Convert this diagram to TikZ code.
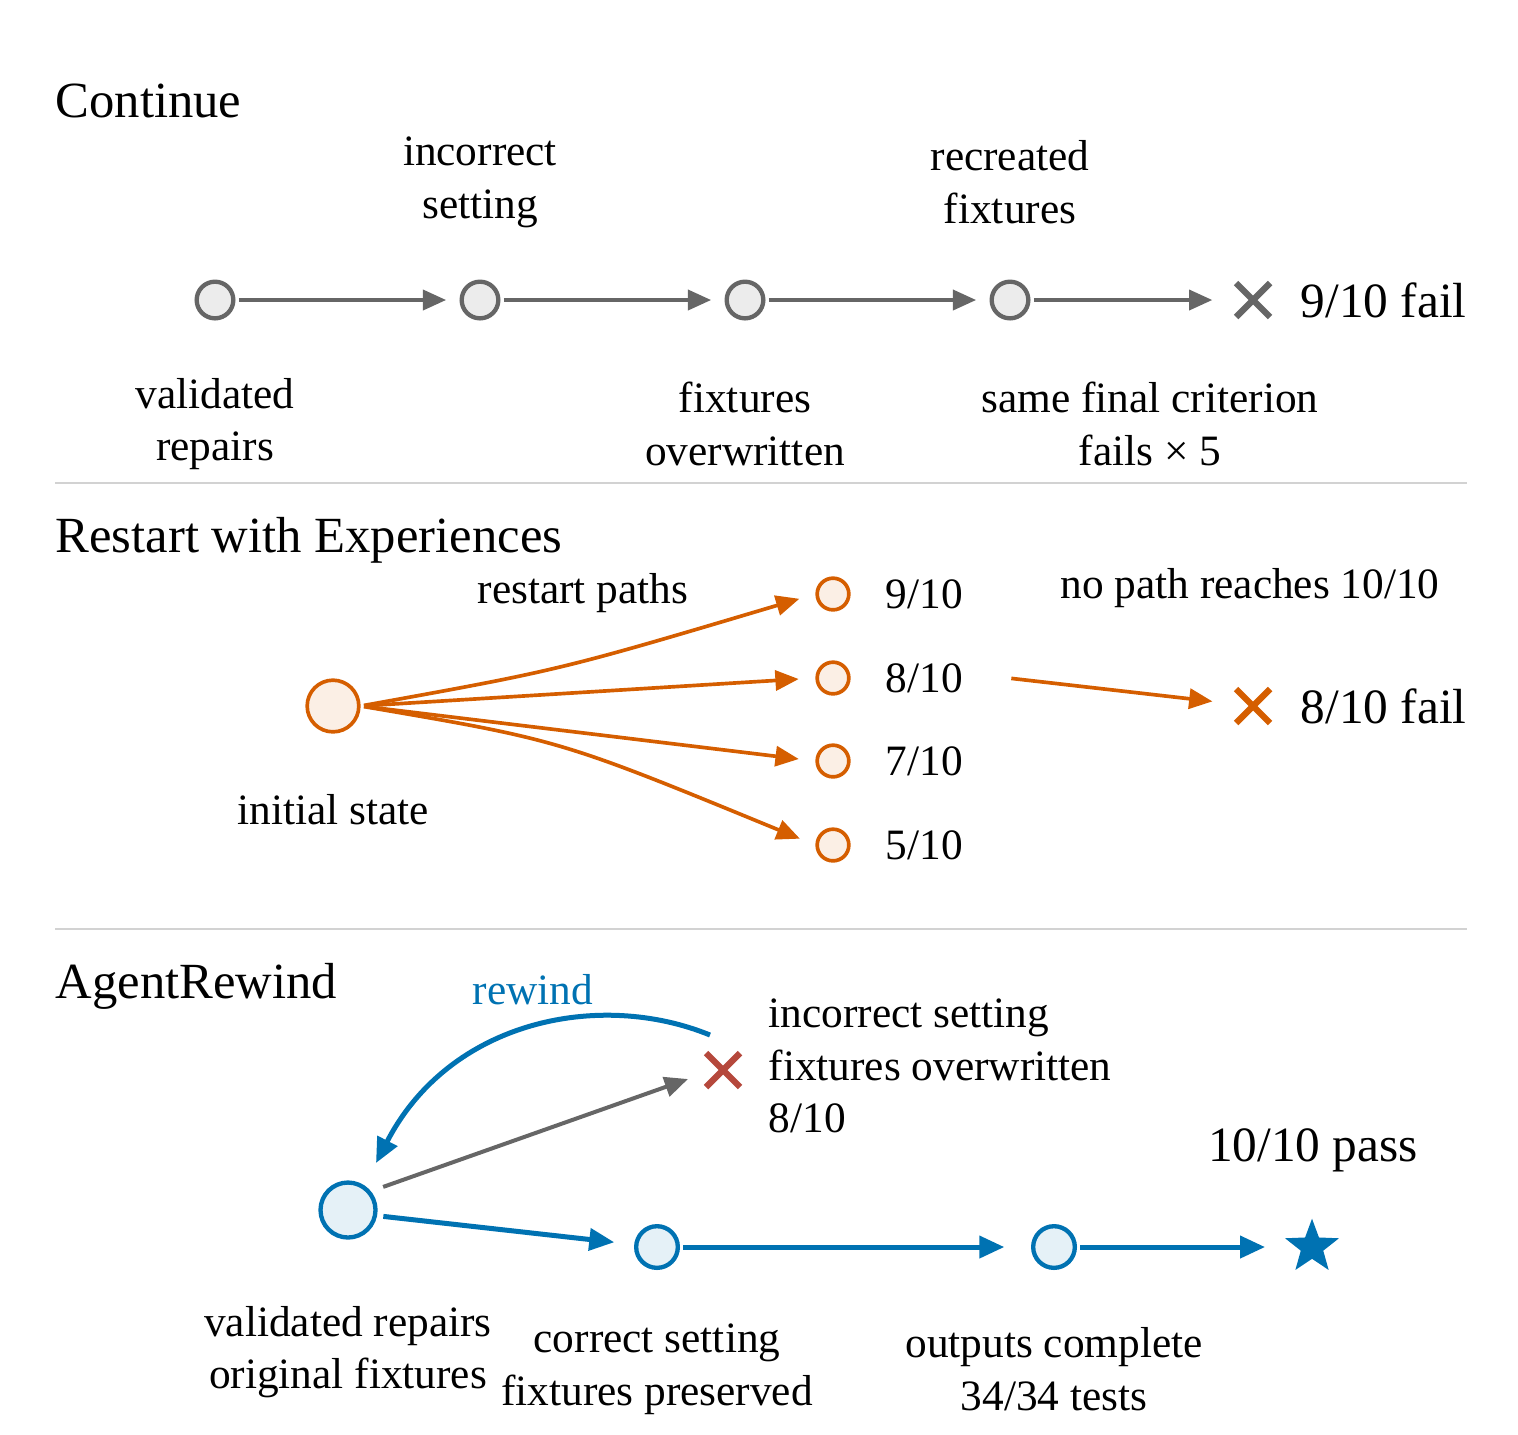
\documentclass[tikz,border=0pt]{standalone}
\usepackage{fontspec}
\setmainfont{Liberation Serif}
\usetikzlibrary{arrows.meta,shapes.geometric}
\definecolor{cg}{HTML}{666666}
\definecolor{co}{HTML}{D55E00}
\definecolor{cb}{HTML}{0072B2}
\definecolor{cr}{HTML}{B5483C}
\begin{document}
\begin{tikzpicture}[x=0.3pt,y=-0.3pt,
 lab/.style={align=center,font=\fontsize{13}{15.8}\selectfont,inner sep=0pt},
 big/.style={font=\fontsize{14.8}{17}\selectfont,inner sep=0pt},
 ttl/.style={font=\fontsize{15.2}{17}\selectfont,inner sep=0pt,anchor=base west},
 gn/.style={circle,draw=cg,line width=1.3pt,fill=gray!15,minimum size=11pt,inner sep=0pt},
 on/.style={circle,draw=co,line width=1.1pt,fill=co!10,minimum size=9.5pt,inner sep=0pt},
 bn/.style={circle,draw=cb,line width=1.3pt,fill=cb!10,minimum size=12.5pt,inner sep=0pt},
 ga/.style={draw=cg,line width=1.2pt,-{Triangle[length=7pt,width=6pt]},shorten >=4pt,shorten <=1pt},
 oa/.style={draw=co,line width=1.1pt,-{Triangle[length=7pt,width=6pt]},shorten >=5pt,shorten <=1pt},
 ba/.style={draw=cb,line width=1.5pt,-{Triangle[length=7.5pt,width=6.5pt]},shorten >=8pt,shorten <=1pt},
 sep/.style={draw=gray!35,line width=0.6pt}]
\useasboundingbox (0,0) rectangle (1518,1434);
% Continue
\node[ttl] (t1) at (55,117) {Continue};
\node[gn] (c1) at (215,300) {};
\node[gn] (c2) at (480,300) {};
\node[gn] (c3) at (745,300) {};
\node[gn] (c4) at (1010,300) {};
\node[inner sep=0pt,minimum size=12pt] (cx) at (1253,300) {};
\draw[cg,line width=1.9pt] (1236,283)--(1270,317) (1236,317)--(1270,283);
\node[big,anchor=west] (f1) at (1300,300) {9/10 fail};
\draw[ga] (c1)--(c2); \draw[ga] (c2)--(c3); \draw[ga] (c3)--(c4);
\draw[ga,shorten >=6pt] (c4)--(cx);
\node[lab] (l1) at (480,182) {incorrect\\setting};
\node[lab] (l2) at (1010,182) {recreated\\fixtures};
\node[lab] (l3) at (215,424) {validated\\repairs};
\node[lab] (l4) at (745,424) {fixtures\\overwritten};
\node[lab] (l5) at (1150,424) {same final criterion\\fails × 5};
\coordinate (s1a) at (55,483); \coordinate (s1b) at (1467,483);
\draw[sep] (s1a)--(s1b);
% Restart
\node[ttl] (t2) at (55,552) {Restart with Experiences};
\node[on,minimum size=15.5pt] (r0) at (333,706) {};
\node[on] (r1) at (833,594) {};
\node[on] (r2) at (833,678) {};
\node[on] (r3) at (833,761) {};
\node[on] (r4) at (833,845) {};
\draw[oa] (r0.east) .. controls (560,670) .. (r1.west);
\draw[oa] (r0.east) -- (r2.west);
\draw[oa] (r0.east) -- (r3.west);
\draw[oa] (r0.east) .. controls (560,740) .. (r4.west);
\node[lab,anchor=west] (q1) at (885,594) {9/10};
\node[lab,anchor=west] (q2) at (885,678) {8/10};
\node[lab,anchor=west] (q3) at (885,761) {7/10};
\node[lab,anchor=west] (q4) at (885,845) {5/10};
\node[lab] (rp) at (583,593) {restart paths};
\node[lab] (np) at (1250,588) {no path reaches 10/10};
\node[lab] (is) at (333,810) {initial state};
\coordinate (ra) at (1008,678);
\node[inner sep=0pt,minimum size=12pt] (rx) at (1253,706) {};
\draw[co,line width=1.9pt] (1236,689)--(1270,723) (1236,723)--(1270,689);
\draw[oa,shorten >=6pt] (ra)--(rx);
\node[big,anchor=west] (f2) at (1300,706) {8/10 fail};
\coordinate (s2a) at (55,929); \coordinate (s2b) at (1467,929);
\draw[sep] (s2a)--(s2b);
% AgentRewind
\node[ttl] (t3) at (55,998) {AgentRewind};
\node[bn,minimum size=16.5pt] (a0) at (348,1210) {};
\node[inner sep=0pt,minimum size=12pt] (ax) at (723,1070) {};
\draw[cr,line width=1.9pt] (706,1053)--(740,1087) (706,1087)--(740,1053);
\coordinate (ga1) at (380,1188); \coordinate (ga2) at (688,1079);
\draw[ga,shorten >=0pt] (ga1)--(ga2);
\coordinate (rw1) at (710,1035); \coordinate (rw2) at (376,1163);
\draw[cb,line width=1.5pt,-{Triangle[length=7.5pt,width=6.5pt]}] (rw1) .. controls (600,990) and (450,1020) .. (rw2);
\node[font=\fontsize{13}{15}\selectfont,text=cb,inner sep=0pt] (rwl) at (533,990) {rewind};
\node[lab,anchor=west,align=left] (ai) at (768,1066) {incorrect setting\\fixtures overwritten\\8/10};
\node[bn] (a1) at (657,1247) {};
\node[bn] (a2) at (1054,1247) {};
\node[star,star points=5,star point ratio=2.4,fill=cb,inner sep=0pt,minimum size=17pt] (as) at (1312,1247) {};
\coordinate (b0) at (380,1216);
\draw[ba,shorten >=6pt] (b0)--(a1);
\draw[ba] (a1)--(a2);
\draw[ba,shorten >=9pt] (a2)--(as);
\node[big] (ps) at (1313,1150) {10/10 pass};
\node[lab] (al0) at (348,1352) {validated repairs\\original fixtures};
\node[lab] (al1) at (657,1369) {correct setting\\fixtures preserved};
\node[lab] (al2) at (1054,1369) {outputs complete\\34/34 tests};
\end{tikzpicture}
\end{document}
